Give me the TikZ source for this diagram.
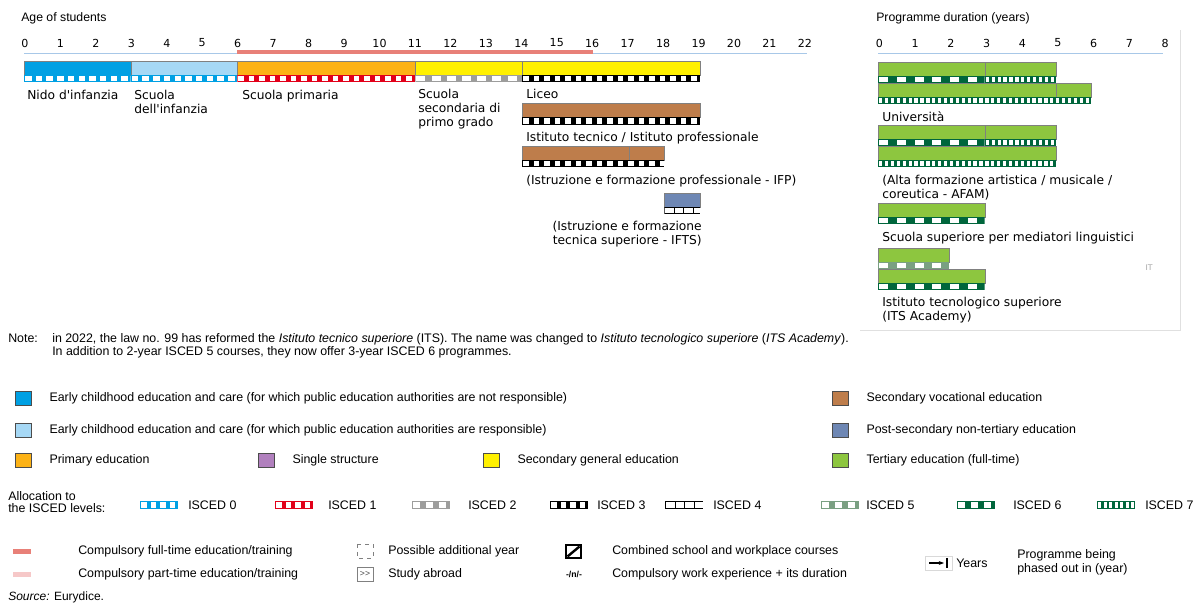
\documentclass[tikz,border=0pt]{standalone}
\usepackage{fontspec}
\setmainfont{Liberation Sans}
\newfontfamily\verd{DejaVu Sans}
\usetikzlibrary{positioning,arrows.meta}

\definecolor{ecnr}{RGB}{0,160,227}
\definecolor{ecr}{RGB}{166,216,245}
\definecolor{prim}{RGB}{252,178,22}
\definecolor{secgen}{RGB}{255,240,0}
\definecolor{secvoc}{RGB}{190,125,75}
\definecolor{postsec}{RGB}{110,135,180}
\definecolor{tert}{RGB}{141,198,63}
\definecolor{single}{RGB}{177,128,190}
\definecolor{i0}{RGB}{0,160,227}
\definecolor{i1}{RGB}{226,0,26}
\definecolor{i2}{RGB}{157,157,156}
\definecolor{i5}{RGB}{122,160,130}
\definecolor{i6}{RGB}{0,102,60}
\definecolor{i7}{RGB}{0,102,60}
\definecolor{cft}{RGB}{232,128,120}
\definecolor{cpt}{RGB}{246,200,200}
\definecolor{axisblue}{RGB}{168,200,232}

\begin{document}
\begin{tikzpicture}[x=0.75pt, y=-0.75pt, node distance=13.5pt,
    lbl/.style={font=\verd\fontsize{9.2}{10.5}\selectfont, inner sep=0pt, anchor=north west, align=left},
    num/.style={font=\verd\fontsize{8.3}{10}\selectfont, inner sep=0pt},
    ttl/.style={font=\fontsize{9.2}{10}\selectfont, inner sep=0pt, anchor=west},
    leg/.style={font=\fontsize{9.3}{10}\selectfont, inner sep=0pt, anchor=west},
    sq/.style={draw=black!70, line width=0.4pt, minimum width=12pt, minimum height=10.5pt, inner sep=0pt},
    bar/.style={draw=black!50, line width=0.3pt}]
\useasboundingbox (0,0) rectangle (1197,605);

% axes
\node[ttl] (age) at (21,18) {Age of students};
\node[ttl] (dur) at (876,18) {Programme duration (years)};
\foreach \i in {0,...,22} \node[num] (l\i) at ({25+35.45*\i},43) {\i};
\foreach \i in {0,...,8} \node[num] (r\i) at ({879.5+35.7*\i},43) {\i};
\draw[axisblue, line width=1.2pt] (24,53.5) -- (807,53.5);
\draw[cft, line width=3pt] ({24+35.58*6},52) -- ({24+35.58*16},52);
\draw[axisblue, line width=1.2pt] (878,53.5) -- (1163,53.5);
\draw[black!12] (860,330) -- (1180,330) -- (1180,30);

% bars
\foreach \org/\xa/\xb/\ya/\col in {24/0/3/61/ecnr, 24/3/6/61/ecr, 24/6/11/61/prim, 24/11/14/61/secgen,
    24/14/19/61/secgen, 24/14/19/103.5/secvoc, 24/14/17/146/secvoc, 24/17/18/146/secvoc, 24/18/19/193/postsec,
    878/0/3/62/tert, 878/3/5/62/tert, 878/0/5/83/tert, 878/5/6/83/tert, 878/0/3/125/tert, 878/3/5/125/tert,
    878/0/5/146/tert, 878/0/3/203/tert, 878/0/2/248/tert, 878/0/3/269/tert}
  \filldraw[bar, fill=\col] ({\org+35.58*\xa},\ya) rectangle ({\org+35.58*\xb},\ya+14);

% ISCED stripes
\foreach \org/\xa/\xb/\ya/\col/\per/\sw in {24/0/3/61/i0/10.7/6.5, 24/3/6/61/i0/10.7/6.5, 24/6/11/61/i1/10.5/5.5,
    24/11/14/61/i2/15.2/9, 24/14/19/61/black/10.5/5.5, 24/14/19/103.5/black/10.5/5.5, 24/14/18/146/black/10.5/5.5,
    24/18/19/193/black/9.5/8.5,
    878/0/3/62/i6/17.8/9, 878/3/5/62/i7/5.9/3.3, 878/0/6/83/i7/5.9/3.3, 878/0/3/125/i6/17.8/9, 878/3/5/125/i7/5.9/3.3,
    878/0/5/146/i7/5.9/3.3, 878/0/3/203/i6/17.8/9, 878/0/2/248/i5/17.8/9, 878/0/3/269/i6/17.8/9}
{
  \begin{scope}
    \clip ({\org+35.58*\xa},\ya+14) rectangle ({\org+35.58*\xb},\ya+21.5);
    \fill[\col] ({\org+35.58*\xa},\ya+14) rectangle ({\org+35.58*\xb},\ya+21.5);
    \pgfmathtruncatemacro\nk{35.58*(\xb-\xa)/\per}
    \foreach \k in {0,...,\nk}
      \fill[white] ({\org+35.58*\xa+1+\k*\per},\ya+15) rectangle ++(\sw,5.5);
  \end{scope}
}

% programme names
\node[lbl] (nido) at (27,90) {Nido d'infanzia};
\node[lbl] (infanzia) at (134,90) {Scuola\\dell'infanzia};
\node[lbl] (primaria) at (242,90) {Scuola primaria};
\node[lbl] (secI) at (418,89) {Scuola\\secondaria di\\primo grado};
\node[lbl] (liceo) at (526,89) {Liceo};
\node[lbl] (tecnico) at (526,132) {Istituto tecnico / Istituto professionale};
\node[lbl] (ifp) at (526,175) {(Istruzione e formazione professionale - IFP)};
\node[lbl, anchor=north east, align=right] (ifts) at (702,221) {(Istruzione e formazione\\tecnica superiore - IFTS)};
\node[lbl] (univ) at (882,111) {Università};
\node[lbl] (afam) at (882,175) {(Alta formazione artistica / musicale /\\coreutica - AFAM)};
\node[lbl] (mediat) at (882,232) {Scuola superiore per mediatori linguistici};
\node[lbl] (its) at (882,297) {Istituto tecnologico superiore\\(ITS Academy)};
\node[font=\verd\fontsize{5.8}{6}\selectfont, text=black!35, inner sep=0pt] (it) at (1149,268) {IT};

% note
\node[leg] (note) at (8,338) {Note:};
\node[leg, anchor=north west, align=left, font=\fontsize{9.3}{9.75}\selectfont] (notetext) at (52,333)
  {in 2022, the law no. 99 has reformed the \textit{Istituto tecnico superiore} (ITS). The name was changed to \textit{Istituto tecnologico superiore} (\textit{ITS Academy}).\\
   In addition to 2-year ISCED 5 courses, they now offer 3-year ISCED 6 programmes.};

% legend: categories
\node[sq, fill=ecnr] (sqA) at (23,398) {};
\node[leg, right=of sqA] (lgA) {Early childhood education and care (for which public education authorities are not responsible)};
\node[sq, fill=ecr] (sqB) at (23,430) {};
\node[leg, right=of sqB] (lgB) {Early childhood education and care (for which public education authorities are responsible)};
\node[sq, fill=prim] (sqC) at (23,460) {};
\node[leg, right=of sqC] (lgC) {Primary education};
\node[sq, fill=single] (sqD) at (266,460) {};
\node[leg, right=of sqD] (lgD) {Single structure};
\node[sq, fill=secgen] (sqE) at (491,460) {};
\node[leg, right=of sqE] (lgE) {Secondary general education};
\node[sq, fill=secvoc] (sqF) at (840,398) {};
\node[leg, right=of sqF] (lgF) {Secondary vocational education};
\node[sq, fill=postsec] (sqG) at (840,430) {};
\node[leg, right=of sqG] (lgG) {Post-secondary non-tertiary education};
\node[sq, fill=tert] (sqH) at (840,460) {};
\node[leg, right=of sqH] (lgH) {Tertiary education (full-time)};

% legend: ISCED levels
\node[leg, anchor=north west, align=left, font=\fontsize{9.3}{9.5}\selectfont] (alloc) at (8,491) {Allocation to\\the ISCED levels:};
\foreach \sx/\lx/\col/\per/\sw/\lev in {140/188/i0/9.5/5.5/0, 275/328/i1/9.5/5.5/1, 412/468/i2/13/7/2,
    550/597/black/9.5/5.5/3, 665/713/black/9.5/8.5/4, 821/866/i5/13/7/5, 957/1013/i6/13/7/6, 1097/1145/i7/5.5/3.2/7}
{
  \begin{scope}
    \clip (\sx,501) rectangle (\sx+38,509);
    \fill[\col] (\sx,501) rectangle (\sx+38,509);
    \foreach \k in {0,...,8} \fill[white] (\sx+1+\k*\per,502) rectangle ++(\sw,6);
  \end{scope}
  \node[leg] (isc\lev) at (\lx,505) {ISCED \lev};
}

% legend: symbols
\fill[cft] (13,549) rectangle (31,554);
\node[leg] (lcft) at (78,551) {Compulsory full-time education/training};
\fill[cpt] (13,572) rectangle (31,577);
\node[leg] (lcpt) at (78,574) {Compulsory part-time education/training};
\draw[black!50, dashed, line width=0.3pt] (357,544) rectangle (373,558);
\node[leg] (ladd) at (388,551) {Possible additional year};
\node[draw=black!50, line width=0.3pt, minimum width=12pt, minimum height=10.5pt, inner sep=0pt,
      font=\fontsize{6.5}{6.5}\selectfont, text=black!70] (abroad) at (365,574) {{>}{>}};
\node[leg] (labroad) at (388,574) {Study abroad};
\draw[line width=0.8pt] (566,545) rectangle (581,558);
\draw[line width=1.8pt] (567.5,556.5) -- (579.5,546.5);
\node[font=\bfseries\fontsize{6.5}{6.5}\selectfont, inner sep=0pt] (work) at (574,574) {-/n/-};
\node[leg] (lcomb) at (612,551) {Combined school and workplace courses};
\node[leg] (lwork) at (612,574) {Compulsory work experience + its duration};
\draw[black!15, line width=0.3pt] (925,556) rectangle (952,570);
\draw[line width=1.2pt, -{Stealth[length=4pt]}] (929,563) -- (944,563);
\draw[line width=1.5pt] (947,558) -- (947,568);
\node[leg] (years) at (956,563) {Years};
\node[leg, anchor=north west, align=left, font=\fontsize{9.3}{11}\selectfont] (phased) at (1017,549) {Programme being\\phased out in (year)};
\node[leg, font=\fontsize{9}{10}\selectfont] (source) at (8,597) {\textit{Source:} Eurydice.};
\end{tikzpicture}
\end{document}
